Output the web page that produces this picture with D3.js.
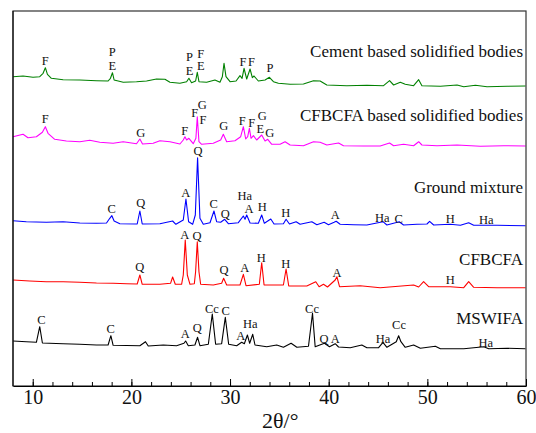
<!DOCTYPE html>
<html>
<head>
<meta charset="utf-8">
<script src="https://cdn.jsdelivr.net/npm/d3@7"></script>
<style>
  body { margin: 0; background: #fff; }
  svg text { font-family: "Liberation Serif", "Times New Roman", Times, "DejaVu Serif", serif; }
</style>
</head>
<body>
<script>
// XRD patterns, [2theta, intensity a.u.] (stacked, offset already included)
let cementBodies = [[8.00,309.3],[9.02,310],[10.03,308.7],[10.71,309.3],[11.05,312.7],[11.28,318.3],[11.49,311.7],[11.89,307.7],[13.08,306.3],[14.77,306],[16.46,305.3],[17.64,305],[17.88,307.7],[18.08,313.3],[18.25,306],[19.17,303.7],[20.52,304.3],[21.54,305],[22.55,307],[23.40,306.7],[23.91,303.7],[24.92,302.7],[25.60,304.3],[25.83,307.7],[26.10,303.3],[26.51,305],[26.68,313.7],[26.85,304.3],[27.63,303.7],[28.47,306],[28.98,303.7],[29.22,309.3],[29.39,322.7],[29.59,309.3],[30.00,304.3],[30.61,305],[31.01,310.3],[31.22,307.7],[31.42,317.7],[31.69,307],[32.03,317],[32.26,308.3],[32.43,310],[32.87,305],[33.55,306],[33.99,308.7],[34.40,304.3],[34.90,302.7],[36.09,301.7],[37.44,302],[38.46,305.3],[39.13,305],[39.81,301],[41.84,300.3],[43.87,300.7],[45.56,300.3],[46.17,305.3],[46.58,301],[47.26,303.7],[47.76,301.7],[48.61,300.3],[49.12,306.3],[49.45,300.3],[51.32,299.7],[53.01,301],[53.69,299.3],[54.87,300.7],[56.05,299.3],[58.09,299.7],[59.95,300]];

let cfbcfaBodies = [[8.00,249.3],[9.02,251.7],[9.52,248.3],[10.37,249.3],[10.98,253.7],[11.28,259.3],[11.55,252.7],[12.23,246.7],[13.41,245],[14.77,244.3],[15.78,245.7],[16.80,243.7],[18.15,242.7],[19.17,244.3],[20.52,242.3],[20.86,247],[21.13,242],[22.21,242.7],[22.89,245.3],[23.91,244.3],[24.92,242],[25.26,246],[25.43,249.3],[25.60,246],[25.83,247.7],[26.27,242.3],[26.54,247.7],[26.68,269.3],[26.85,244.3],[27.12,241.7],[28.30,242.7],[29.05,246],[29.32,251.7],[29.66,244.3],[30.50,245.3],[31.08,249.3],[31.35,259.3],[31.59,247],[31.79,249.3],[31.96,257.7],[32.13,247.7],[32.37,250.3],[32.70,246],[33.21,251],[33.55,245],[33.82,246.7],[34.23,241.7],[35.07,241.7],[35.58,244.3],[36.09,241],[37.44,240.3],[38.46,244.3],[39.13,243.7],[39.81,241],[41.00,243],[41.50,240.3],[43.53,240],[45.22,240],[46.17,243],[46.58,240.3],[47.59,241.7],[48.61,240.3],[49.12,244.3],[49.45,241],[50.98,240.3],[53.01,241],[55.38,239.7],[57.75,240.3],[59.95,240]];

let groundMixture = [[8.00,165.3],[9.35,164.3],[11.38,163.7],[13.08,164.3],[14.77,163],[16.46,162.7],[17.48,163],[17.81,167.7],[18.02,170.3],[18.25,165],[18.83,162.3],[20.59,162],[20.86,175],[21.10,162],[22.89,162.3],[24.18,165],[24.51,161.7],[25.26,166],[25.53,187],[25.80,164.3],[26.21,161.7],[26.48,171],[26.71,228.3],[26.95,167.7],[27.29,161.7],[27.97,163.3],[28.37,175],[28.64,164.3],[29.05,163.7],[29.46,166.7],[29.83,162.3],[30.84,163.3],[31.35,170],[31.52,166.7],[31.69,171],[32.03,163],[32.87,162.7],[33.21,171],[33.48,162.7],[34.13,167],[34.46,162],[35.41,162.3],[35.68,166.7],[36.02,162],[36.70,164.3],[37.10,161.7],[38.29,164.3],[38.80,161.3],[39.54,163.7],[39.98,161.3],[40.55,163.7],[40.76,164.7],[41.16,161.7],[42.52,161.3],[43.87,161],[45.50,164.3],[45.90,161],[47.15,164.3],[47.59,161],[48.95,161.7],[49.96,162],[50.23,164.7],[50.64,161],[52.33,161.7],[53.35,160.7],[54.19,163.3],[54.70,160.7],[57.07,160.7],[59.95,160.3]];

let cfbcfa = [[8.00,106],[9.69,105],[11.38,104.3],[13.08,104.3],[14.77,103.7],[16.46,103],[18.15,102.7],[19.51,102.3],[20.59,102],[20.86,111],[21.10,101.7],[22.89,101.7],[23.97,102.7],[24.18,109],[24.45,101.7],[25.09,101.7],[25.26,111],[25.46,146],[25.67,111],[25.94,101.7],[26.38,102.3],[26.51,114.3],[26.68,144.3],[26.85,114.3],[27.02,101.7],[28.30,101],[29.15,102.7],[29.35,107.7],[29.66,101],[31.01,101],[31.35,111.7],[31.62,100.3],[32.97,101.7],[33.21,123.3],[33.45,101],[35.41,101],[35.68,117],[35.95,100],[37.78,100],[38.69,104.3],[39.03,99.3],[39.47,101.7],[39.88,99],[40.66,106],[40.83,109.3],[41.10,99.3],[43.19,100.3],[45.22,98.3],[48.61,101],[49.12,99],[49.62,104.3],[50.13,99.3],[52.33,99.3],[53.69,98.3],[54.19,104.3],[54.70,98.7],[57.07,98.3],[59.95,98.3]];

let mswifa = [[8.00,45],[9.35,44.3],[10.37,43.7],[10.71,59.3],[10.98,43],[13.08,42.3],[14.77,41.7],[16.46,41],[17.64,41],[17.92,50.3],[18.15,40.7],[20.86,40.3],[21.43,44.3],[21.71,40],[23.23,41],[24.58,40.3],[25.33,42.7],[25.50,45],[25.77,40.3],[26.44,41],[26.71,48.7],[26.95,40.3],[27.80,41.7],[28.20,72],[28.54,41.7],[29.15,42.3],[29.52,68.7],[29.86,41.7],[30.67,40.3],[31.18,43.7],[31.45,42.3],[31.76,51],[31.99,42.7],[32.30,51.7],[32.53,41],[33.72,39.3],[34.73,41],[35.41,38.7],[36.19,42.7],[36.77,38.7],[37.95,39.7],[38.36,72.7],[38.63,39.3],[39.57,42.7],[40.08,39.3],[40.66,42.3],[41.00,39],[42.18,38.3],[43.36,41],[43.87,38.3],[45.06,38.3],[45.50,43.7],[45.90,38.7],[46.85,44.3],[47.09,50.3],[47.32,44.3],[47.76,38.7],[48.61,41],[49.29,37.7],[50.81,39.7],[51.32,37.3],[53.69,37.3],[55.72,39.3],[56.22,37.3],[58.09,37.7],[59.95,37.3]];

// phase marks [label, 2theta, intensity of text baseline]
let cementMarks = [["F",11.27,321],["P",18.07,330],["E",18.07,316],["P",25.90,325],["E",25.90,311],["F",27.03,328.5],["E",27.03,316],["F",31.32,320],["F",32.18,320],["P",34.05,314]];
let cfbcfaBodyMarks = [["F",11.27,262.7],["G",20.95,249.3],["F",25.40,251],["F",26.42,269],["G",27.19,277],["F",27.26,262],["G",29.36,256],["F",31.24,261],["F",32.20,259.3],["G",33.27,266],["E",33.07,253.3],["G",34.02,249.3]];
let mixtureMarks = [["C",18.00,172.7],["Q",20.95,179.5],["A",25.51,189.3],["Q",26.75,231],["C",28.34,177.7],["Q",29.52,168.3],["Ha",31.49,186],["A",31.92,172.7],["H",33.27,175],["H",35.64,169.3],["A",40.67,167],["Ha",45.44,163.7],["C",47.10,163],["H",52.33,162.7],["Ha",55.98,162]];
let cfbcfaMarks = [["Q",20.84,115],["A",25.40,147],["Q",26.65,146.5],["Q",29.39,112],["A",31.49,113.7],["H",33.17,124.3],["H",35.64,117.7],["A",40.84,109.3],["H",52.33,101.7]];
let mswifaMarks = [["C",10.87,61.7],["C",17.90,53.3],["A",25.47,47.7],["Q",26.68,54.3],["Cc",28.17,72.7],["C",29.56,71],["A",31.08,46],["Ha",32.05,57.7],["Cc",38.31,72.7],["Q",39.53,43.3],["A",40.67,42.7],["Ha",45.51,42.7],["Cc",47.13,57],["Ha",55.92,39.3]];

let seriesNames = ["Cement based solidified bodies", "CFBCFA based solidified bodies", "Ground mixture", "CFBCFA", "MSWIFA"];
let nameLevels = [329, 265, 193, 121, 62];
let colors = ["#008000", "#ff00ff", "#0000ff", "#ff0000", "#000000"];
let majorTicks = [10, 20, 30, 40, 50, 60];
let minorTicks = [10, 12, 14, 16, 18, 20, 22, 24, 26, 28, 30, 32, 34, 36, 38, 40, 42, 44, 46, 48, 50, 52, 54, 56, 58, 60];

let patterns = [cementBodies, cfbcfaBodies, groundMixture, cfbcfa, mswifa];
let marks = [cementMarks, cfbcfaBodyMarks, mixtureMarks, cfbcfaMarks, mswifaMarks];

let serif = "'Liberation Serif', 'Times New Roman', Times, 'DejaVu Serif', serif";
let w = 536;
let h = 433;
let margin = {top: 11, right: 10, bottom: 47, left: 13};

let svg = d3.select("body")
    .append("svg")
    .attr("width", w)
    .attr("height", h)
    .attr("font-family", serif);

let x = d3.scaleLinear().domain([8, 60]).range([margin.left, w - margin.right]);
let y = d3.scaleLinear().domain([0, 375]).range([h - margin.bottom, margin.top]);

let line = d3.line()
    .x(d => x(d[0]))
    .y(d => y(d[1]));

patterns.forEach((p, i) => {
    svg.append("path")
        .datum(p)
        .attr("fill", "none")
        .attr("stroke", colors[i])
        .attr("stroke-width", 1.1)
        .attr("stroke-linejoin", "round")
        .attr("d", line);

    svg.append("g")
        .selectAll("text")
        .data(marks[i])
        .enter()
        .append("text")
        .attr("x", d => x(d[1]))
        .attr("y", d => y(d[2]))
        .attr("text-anchor", "middle")
        .attr("font-family", serif)
        .attr("font-size", 12.5)
        .attr("fill", "#111")
        .text(d => d[0]);
});

// series names, right aligned
svg.append("g")
    .selectAll("text")
    .data(seriesNames)
    .enter()
    .append("text")
    .attr("x", w - margin.right - 3)
    .attr("y", (d, i) => y(nameLevels[i]))
    .attr("text-anchor", "end")
    .attr("font-family", serif)
    .attr("font-size", 17)
    .attr("fill", "#111")
    .text(d => d);

// frame
svg.append("rect")
    .attr("x", margin.left)
    .attr("y", margin.top)
    .attr("width", w - margin.left - margin.right)
    .attr("height", h - margin.top - margin.bottom)
    .attr("fill", "none")
    .attr("stroke", "#333")
    .attr("stroke-width", 1.2);

let xMinor = d3.axisBottom(x).tickValues(minorTicks).tickSize(-4).tickFormat("");
svg.append("g")
    .attr("transform", `translate(0,${h - margin.bottom})`)
    .call(xMinor)
    .call(g => g.select(".domain").remove());

let xAxis = d3.axisBottom(x).tickValues(majorTicks).tickSizeInner(-7).tickSizeOuter(0).tickPadding(4);
svg.append("g")
    .attr("transform", `translate(0,${h - margin.bottom})`)
    .call(xAxis)
    .attr("font-family", serif)
    .call(g => g.select(".domain").attr("stroke", "#000"))
    .call(g => g.selectAll("text")
        .attr("font-family", serif)
        .attr("font-size", 20)
        .attr("fill", "#111"));

svg.append("line")
    .attr("x1", margin.left).attr("x2", margin.left)
    .attr("y1", margin.top).attr("y2", h - margin.bottom)
    .attr("stroke", "#000");

svg.append("text")
    .attr("x", 262)
    .attr("y", 428)
    .attr("font-family", serif)
    .attr("font-size", 22)
    .attr("fill", "#111")
    .text("2θ/°");
</script>
</body>
</html>
